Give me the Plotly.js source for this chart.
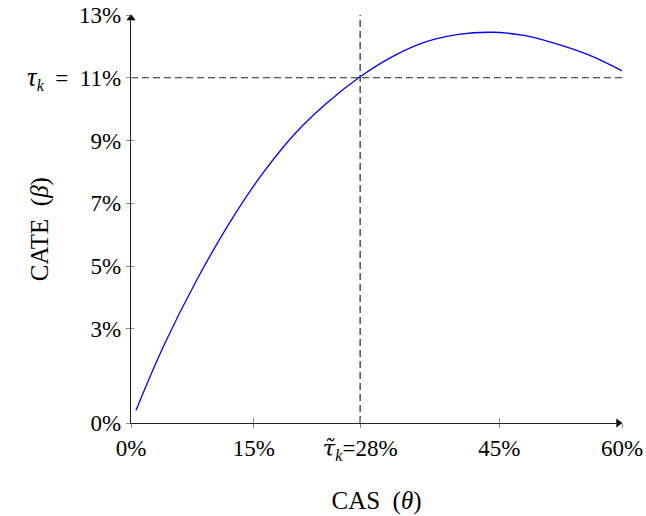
<!DOCTYPE html>
<html>
<head>
<meta charset="utf-8">
<script src="https://cdn.plot.ly/plotly-3.0.1.min.js"></script>
<style>html,body{margin:0;padding:0;background:#fff;}#chart{width:646px;height:516px;}</style>
</head>
<body>
<div id="chart"></div>
<script>
// Data (percent units)
const casValues  = [0.6, 4, 8, 12, 16, 20, 24, 28, 32, 36, 40, 44, 48, 52, 56, 60.1];
const cateValues = [0.40, 2.46, 4.54, 6.36, 7.92, 9.21, 10.21, 11.03, 11.68, 12.14, 12.38, 12.45, 12.35, 12.08, 11.72, 11.21];
const thresholdCATE = 11;   // tau_k
const thresholdCAS = 28;    // tilde tau_k
const xTickVals = [0, 15, 28, 45, 60];
const xTickText = ["0%", "15%", "<span style=\"font-family:'DejaVu Serif'\"><i>τ̃</i></span><sub><i>k</i></sub>=28%", "45%", "60%"];
const yTickVals = [0, 3, 5, 7, 9, 11, 13];
const yTickText = ["0%", "3%", "5%", "7%", "9%", "<span style=\"font-size:27px\"><i>τ</i></span><sub><i>k</i></sub>&nbsp; =&nbsp; 11%", "13%"];
const xRange = [0, 60];
const yRange = [0, 13];
const xTitle = "CAS&nbsp; (<i>θ</i>)";
const yTitle = "CATE&nbsp; (<i>β</i>)";

const FAM = "Liberation Serif, Times New Roman, serif";
const tickFont = {family: FAM, size: 23, color: "#000"};
const titleFont = {family: FAM, size: 25, color: "#000"};

const traces = [
  {x: casValues, y: cateValues, mode: "lines", line: {color: "#0000ff", width: 1.3, shape: "spline", smoothing: 1},
   hoverinfo: "skip", showlegend: false},
  {x: [xRange[0], xRange[1]], y: [thresholdCATE, thresholdCATE], mode: "lines",
   line: {color: "#222", width: 1.2, dash: "7px,4px"}, showlegend: false, hoverinfo: "skip"},
  {x: [thresholdCAS, thresholdCAS], y: [yRange[0], yRange[1]], mode: "lines",
   line: {color: "#222", width: 1.2, dash: "7px,4px"}, showlegend: false, hoverinfo: "skip"},
  // axis arrowheads
  {x: [xRange[0]], y: [yRange[1] - 0.1], mode: "markers", cliponaxis: false,
   marker: {symbol: "triangle-up", size: 8, color: "#000"}, showlegend: false, hoverinfo: "skip"},
  {x: [xRange[1] - 0.45], y: [yRange[0]], mode: "markers", cliponaxis: false,
   marker: {symbol: "triangle-right", size: 8, color: "#000"}, showlegend: false, hoverinfo: "skip"},
  // invisible trace to activate the inside-tick axes
  {x: [xRange[0]], y: [yRange[0]], xaxis: "x2", yaxis: "y2", mode: "markers",
   marker: {opacity: 0, size: 1}, showlegend: false, hoverinfo: "skip"}
];

const layout = {
  width: 646, height: 516,
  margin: {l: 131, r: 24, t: 15, b: 93},
  paper_bgcolor: "#fff", plot_bgcolor: "rgba(0,0,0,0)",
  font: tickFont,
  showlegend: false,
  xaxis: {range: xRange, tickvals: xTickVals, ticktext: xTickText, showgrid: false, zeroline: false,
    showline: true, linecolor: "#222", linewidth: 1.3, ticks: "outside", ticklen: 4, tickcolor: "#888", tickwidth: 1,
    tickfont: tickFont, title: {text: xTitle, font: titleFont, standoff: 28}, fixedrange: true},
  yaxis: {range: yRange, tickvals: yTickVals, ticktext: yTickText, showgrid: false, zeroline: false,
    showline: true, linecolor: "#222", linewidth: 1.3, ticks: "outside", ticklen: 4, tickcolor: "#888", tickwidth: 1,
    tickfont: tickFont, fixedrange: true},
  xaxis2: {range: xRange, overlaying: "x", anchor: "y2", tickvals: xTickVals, showticklabels: false, showgrid: false,
    zeroline: false, showline: false, ticks: "inside", ticklen: 5, tickcolor: "#888", side: "bottom", fixedrange: true},
  yaxis2: {range: yRange, overlaying: "y", anchor: "x2", tickvals: yTickVals, showticklabels: false, showgrid: false,
    zeroline: false, showline: false, ticks: "inside", ticklen: 3, tickcolor: "#888", side: "left", fixedrange: true},
  annotations: [
    {text: yTitle, xref: "paper", yref: "paper", x: 0, y: 0.475, xanchor: "center", yanchor: "middle",
     xshift: -91, textangle: -90, showarrow: false, font: titleFont}
  ]
};

Plotly.newPlot("chart", traces, layout, {displayModeBar: false, staticPlot: true});
</script>
</body>
</html>
